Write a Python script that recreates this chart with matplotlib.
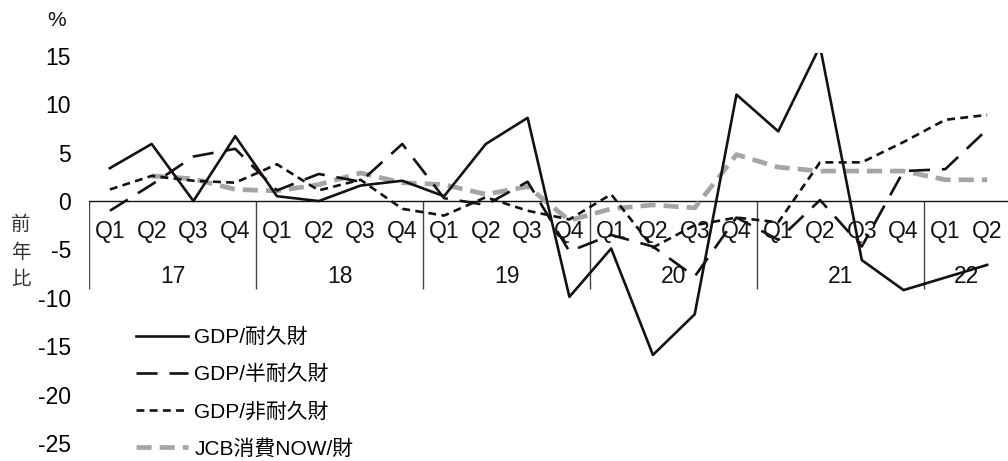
import numpy as np
import matplotlib
matplotlib.use("Agg")
import matplotlib.pyplot as plt

plt.rcParams['font.family'] = ['Liberation Sans', 'Noto Sans CJK JP', 'DejaVu Sans']
plt.rcParams['axes.unicode_minus'] = False

# quarterly y/y growth, 2017Q1 - 2022Q2
quarters = ['Q1', 'Q2', 'Q3', 'Q4'] * 5 + ['Q1', 'Q2']
years = ['17', '18', '19', '20', '21', '22']
year_len = [4, 4, 4, 4, 4, 2]

durable = [3.4, 5.9, 0.0, 6.7, 0.5, 0.0, 1.6, 2.1, 0.5, 5.9, 8.6, -9.9,
           -4.9, -15.9, -11.7, 11.0, 7.2, 16.0, -6.1, -9.2, -7.9, -6.6]
semi_durable = [-1.0, 1.7, 4.6, 5.4, 1.1, 2.8, 2.0, 5.9, 0.3, -0.4, 2.0, -5.2,
                -3.5, -4.7, -7.8, -1.7, -4.0, 0.1, -4.7, 3.1, 3.3, 7.4]
non_durable = [1.2, 2.6, 2.1, 1.9, 3.8, 1.1, 2.2, -0.8, -1.5, 0.4, -1.0, -1.9,
               0.7, -4.8, -2.5, -1.7, -2.2, 4.0, 4.0, 6.1, 8.4, 8.9]
jcb_now = [np.nan, 2.6, 2.3, 1.2, 1.05, 1.7, 2.9, 1.9, 1.7, 0.7, 1.5, -2.0,
           -0.8, -0.4, -0.7, 4.8, 3.5, 3.1, 3.1, 3.1, 2.2, 2.2]

labels = ['GDP/耐久財', 'GDP/半耐久財', 'GDP/非耐久財', 'JCB消費NOW/財']

black = '#161111'
grey = '#a5a5a5'

fig = plt.figure(figsize=(10.08, 4.61), dpi=100)
ax = fig.add_axes([89 / 1008, 18 / 461, 919 / 1008, 390 / 461])

x = np.arange(len(quarters))
l1, = ax.plot(x, durable, color=black, lw=1.9, zorder=4)
l2, = ax.plot(x, semi_durable, color=black, lw=1.9, dashes=(8, 4.5), zorder=4)
l3, = ax.plot(x, non_durable, color=black, lw=1.9, dashes=(3, 2), zorder=4)
l4, = ax.plot(x, jcb_now, color=grey, lw=3.4, dashes=(3.2, 1.7), zorder=3)

ax.set_xlim(-0.5, len(quarters) - 0.5)
ax.set_ylim(-25, 15.3)
ax.set_yticks(range(-25, 16, 5))
ax.tick_params(axis='y', length=0, pad=13, labelsize=16.5)
ax.set_xticks([])
for s in ax.spines.values():
    s.set_visible(False)

# category axis drawn along zero
ax.axhline(0, color=black, lw=1.0, zorder=2)
for i, q in enumerate(quarters):
    ax.text(i, -3.1, q, ha='center', va='center', fontsize=16.5, color=black, zorder=1)
start = 0
for y, n in zip(years, year_len):
    ax.vlines(start - 0.5, -9.1, 0, color='#444444', lw=1.0, zorder=1)
    ax.text(start + n / 2 - 0.5, -7.8, y, ha='center', va='center', fontsize=16.5,
            color=black, zorder=1)
    start += n

fig.text(57 / 1008, 1 - 21 / 461, '%', ha='center', va='center', fontsize=15, color=black)
fig.text(21 / 1008, 1 - 252 / 461, '前\n年\n比', ha='center', va='center', fontsize=14,
         color='#333333', linespacing=1.4, family='Noto Sans CJK JP')

ax.legend([l1, l2, l3, l4], labels, loc='upper left',
          bbox_to_anchor=(136 / 1008, 1 - 328 / 461), bbox_transform=fig.transFigure,
          frameon=False, fontsize=15, handlelength=2.5, handletextpad=0.3,
          labelspacing=0.84, borderpad=0, borderaxespad=0)

fig.savefig('out.png', dpi=100)
